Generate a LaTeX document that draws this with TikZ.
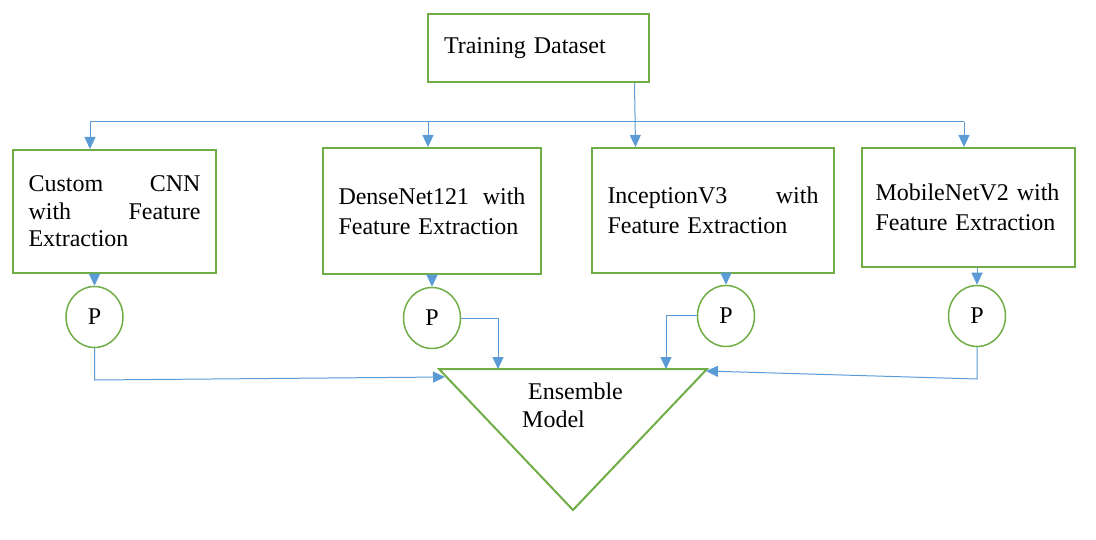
\documentclass[tikz,border=0pt]{standalone}
\usepackage{fontspec}
\setmainfont{Liberation Serif}
\usepackage{tikz}
\usetikzlibrary{shapes}
\usetikzlibrary{arrows.meta}
\usetikzlibrary{positioning}
\definecolor{boxgreen}{HTML}{70AD47}
\definecolor{linkblue}{HTML}{5B9BD5}
\tikzset{
  box/.style={draw=boxgreen, line width=2pt, inner sep=0pt, align=left},
  pool/.style={ellipse, draw=boxgreen, line width=1.5pt, minimum width=57pt, minimum height=61pt, inner sep=0pt},
  link/.style={draw=linkblue, line width=1pt},
  arr/.style={link, -{Triangle[length=12pt,width=11pt]}}
}
\begin{document}
\begin{tikzpicture}[x=1pt,y=-1pt,font=\fontsize{24}{30}\selectfont]
  \useasboundingbox (0,0) rectangle (1096,540);
  \node[box, minimum width=221pt, minimum height=68pt, text width=189pt] (train) at (538.5,48) {\raisebox{-3pt}{Training Dataset}};

  \node[box, minimum width=203pt, minimum height=123pt, text width=172pt, font=\fontsize{24}{27.5}\selectfont] (cnn) at (114.5,211.5) {Custom\hfill CNN\\with\hfill Feature\\Extraction};
  \node[box, minimum width=218pt, minimum height=126pt, text width=187pt] (dense) at (432,211) {DenseNet121\hfill with\\Feature Extraction};
  \node[box, minimum width=242pt, minimum height=125pt, text width=211pt] (incep) at (713,210.5) {InceptionV3\hfill with\\Feature Extraction};
  \node[box, minimum width=213pt, minimum height=119pt, text width=186pt] (mobile) at (968.5,207.5) {\mbox{MobileNetV2 with}\\Feature Extraction};

  \node[pool] (pc) at (94.5,317) {P};
  \node[pool] (pd) at (432,318) {P};
  \node[pool] (pi) at (726,316) {P};
  \node[pool] (pm) at (977,316) {P};

  \coordinate (ens-l) at (439,369);
  \coordinate (ens-r) at (707,369);
  \coordinate (ens-b) at (573,510);
  \draw[boxgreen, line width=2pt] (ens-l) -- (ens-r) -- (ens-b) -- cycle;
  \node[inner sep=0pt, align=left, anchor=west, font=\fontsize{24}{28}\selectfont] (ens) at (522,405) {\hspace*{6pt}Ensemble\\Model};

  \coordinate (bus-l) at (90,122);
  \coordinate (bus-r) at (964,122);
  \coordinate (bus-d) at (428,122);
  \draw[link] (bus-l) -- (bus-r);
  \draw[arr] ([xshift=96pt]train.south) -- ([xshift=97pt]train.south |- incep.north);
  \draw[arr] (bus-l) -- (bus-l |- cnn.north);
  \draw[arr] (bus-d) -- (bus-d |- dense.north);
  \draw[arr] (bus-r) -- (bus-r |- mobile.north);

  \draw[arr] (cnn.south -| pc.north) -- (pc.north);
  \draw[arr] (dense.south -| pd.north) -- (pd.north);
  \draw[arr] (incep.south -| pi.north) -- (pi.north);
  \draw[arr] (mobile.south -| pm.north) -- (pm.north);

  \coordinate (c-knee) at (94.5,380);
  \coordinate (c-in) at (445,377);
  \coordinate (d-in) at (498,369);
  \coordinate (i-in) at (666,369);
  \coordinate (m-knee) at (977,379);
  \coordinate (m-in) at (706,371);
  \draw[arr] (pc.south) -- (c-knee) -- (c-in);
  \draw[arr] ([yshift=-1pt]pd.east) -| (d-in);
  \draw[arr] (pi.west) -| (i-in);
  \draw[arr] (pm.south) -- (m-knee) -- (m-in);
\end{tikzpicture}
\end{document}
